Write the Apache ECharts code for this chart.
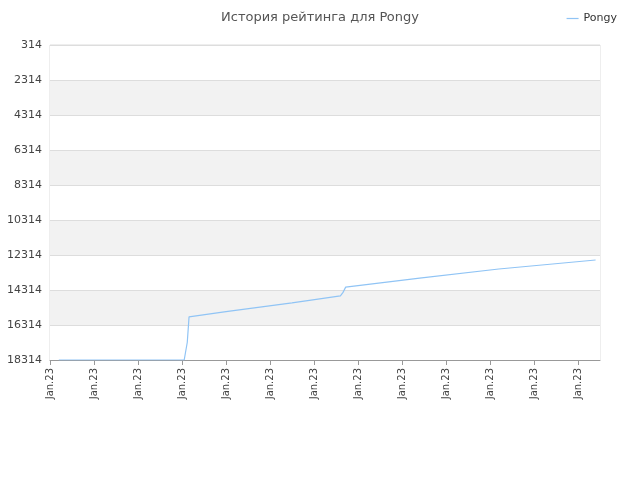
<!DOCTYPE html>
<html>
<head>
<meta charset="utf-8">
<script src="https://cdn.jsdelivr.net/npm/echarts@6/dist/echarts.min.js"></script>
</head>
<body style="margin:0">
<div id="main" style="width:640px;height:480px"></div>
<script>
var seriesName = 'Pongy';
var xLabel = 'Jan.23';
var steps = [2, 30.5, 31.2, 31.6, 40, 55, 66, 66.6, 67.2, 84, 102, 124];
var ranks = [18314, 18314, 17300, 15850, 15550, 15050, 14650, 14450, 14150, 13630, 13114, 12600];

var points = steps.map(function (s, i) { return [s, ranks[i]]; });

var myChart = echarts.init(document.getElementById('main'));
myChart.setOption({
  animation: false,
  title: {
    text: 'История рейтинга для Pongy',
    left: 'center', top: 6,
    textStyle: { color: '#555', fontSize: 13, fontWeight: 'normal', fontFamily: 'DejaVu Sans' }
  },
  legend: {
    right: 18, top: 8,
    icon: 'path://M0,0L10,0L10,1L0,1Z',
    itemWidth: 12, itemHeight: 2,
    textStyle: { fontSize: 11, color: '#333', fontFamily: 'DejaVu Sans' },
    data: [seriesName]
  },
  grid: { left: 50, right: 40, top: 45, bottom: 120, show: true, borderColor: '#ddd', borderWidth: 1 },
  xAxis: {
    type: 'value', min: 0, max: 125, interval: 10,
    axisLine: { lineStyle: { color: '#999' } },
    axisTick: { show: true, lineStyle: { color: '#999' } },
    splitLine: { show: false },
    axisLabel: { rotate: 90, color: '#444', fontSize: 10, fontFamily: 'DejaVu Sans', showMaxLabel: false,
      formatter: function () { return xLabel; } }
  },
  yAxis: {
    type: 'value', inverse: true, min: 314, max: 18314, interval: 2000,
    axisLine: { show: false }, axisTick: { show: false },
    axisLabel: { color: '#444', fontSize: 11, fontFamily: 'DejaVu Sans',
      formatter: function (v) { return String(v); } },
    splitLine: { lineStyle: { color: '#ddd' } },
    splitArea: { show: true, areaStyle: { color: ['#ffffff', '#f2f2f2'] } }
  },
  series: [{
    name: seriesName, type: 'line', data: points, showSymbol: false,
    lineStyle: { color: '#90c4f5', width: 1.2 }, itemStyle: { color: '#90c4f5' }
  }]
});
</script>
</body>
</html>
